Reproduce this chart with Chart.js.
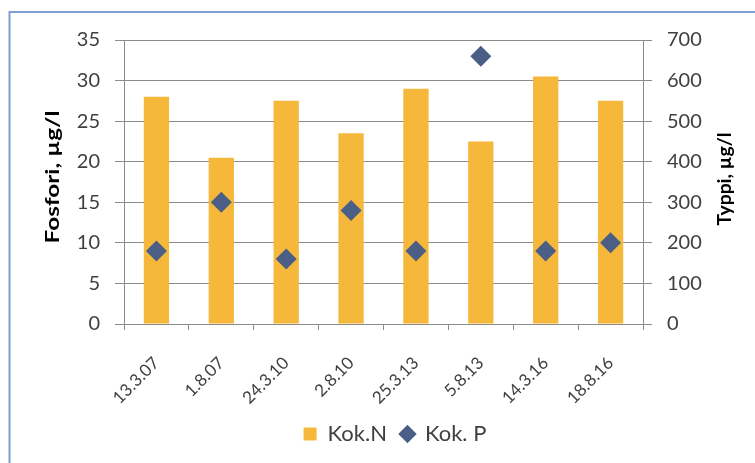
<!DOCTYPE html>
<html>
<head>
<meta charset="utf-8">
<script src="https://cdn.jsdelivr.net/npm/chart.js@4"></script>
<style>
  html, body { margin: 0; padding: 0; background: #ffffff; }
  #wrap { width: 755px; height: 463px; position: relative; }
</style>
</head>
<body>
<div id="wrap"><canvas id="c" width="755" height="463"></canvas></div>
<script>
// Sampling dates
const dates = ['13.3.07', '1.8.07', '24.3.10', '2.8.10', '25.3.13', '5.8.13', '14.3.16', '18.8.16'];
// Total nitrogen, µg/l (right axis)
const kokN = [560, 410, 550, 470, 580, 450, 610, 550];
// Total phosphorus, µg/l (left axis)
const kokP = [9, 15, 8, 14, 9, 33, 9, 10];
// Axis ranges
const pTicks = { min: 0, max: 35, step: 5 };
const nTicks = { min: 0, max: 700, step: 100 };

const FONT = 'Lato, "Open Sans", sans-serif';
const TEXT = '#404040';
const GRID = '#8c8c8c';
const BAR = '#F5B83B';
const DIAMOND = '#4A5E86';

// Light blue frame around the whole chart
const framePlugin = {
  id: 'frame',
  beforeDraw(chart) {
    const ctx = chart.ctx;
    ctx.save();
    ctx.fillStyle = '#ffffff';
    ctx.fillRect(0, 0, chart.width, chart.height);
    ctx.strokeStyle = '#7F9ED3';
    ctx.lineWidth = 2;
    ctx.strokeRect(9.5, 12, chart.width + 10, chart.height + 10);
    ctx.restore();
  }
};

// Vertical axis titles, both reading bottom to top
function drawAxisTitle(ctx, text, cx, cy, length) {
  ctx.save();
  ctx.font = 'bold 18px ' + FONT;
  const w = ctx.measureText(text).width;
  ctx.translate(cx, cy);
  ctx.rotate(-Math.PI / 2);
  ctx.scale(length / w, 1);
  ctx.fillStyle = '#000000';
  ctx.textAlign = 'center';
  ctx.textBaseline = 'middle';
  ctx.fillText(text, 0, 0);
  ctx.restore();
}
const axisTitlesPlugin = {
  id: 'axisTitles',
  afterDraw(chart) {
    const ctx = chart.ctx;
    drawAxisTitle(ctx, 'Fosfori, µg/l', 53, 177, 133);
    drawAxisTitle(ctx, 'Typpi, µg/l', 725, 179, 93);
  }
};

new Chart(document.getElementById('c'), {
  type: 'bar',
  data: {
    labels: dates,
    datasets: [
      {
        label: 'Kok.N',
        data: kokN,
        yAxisID: 'yN',
        backgroundColor: BAR,
        borderWidth: 0,
        barPercentage: 0.39,
        categoryPercentage: 1.0,
        pointStyle: 'rect',
        order: 2
      },
      {
        type: 'line',
        label: 'Kok. P',
        data: kokP,
        yAxisID: 'yP',
        showLine: false,
        pointStyle: 'rectRot',
        pointRadius: 10.5,
        pointHoverRadius: 10.5,
        pointBackgroundColor: DIAMOND,
        pointBorderColor: DIAMOND,
        pointBorderWidth: 0,
        backgroundColor: DIAMOND,
        borderColor: DIAMOND,
        order: 1
      }
    ]
  },
  options: {
    responsive: false,
    animation: false,
    devicePixelRatio: 1,
    layout: { padding: { left: 35, right: 0, top: 40, bottom: 8 } },
    plugins: {
      tooltip: { enabled: false },
      legend: {
        position: 'bottom',
        labels: {
          usePointStyle: true,
          boxWidth: 13,
          boxHeight: 13,
          padding: 14,
          color: TEXT,
          font: { family: FONT, size: 22 },
          sort: (a, b) => a.datasetIndex - b.datasetIndex
        }
      }
    },
    scales: {
      x: {
        offset: true,
        grid: {
          offset: true,
          drawOnChartArea: false,
          drawTicks: true,
          tickLength: 6,
          color: GRID
        },
        border: { display: true, color: GRID },
        ticks: {
          minRotation: 45,
          maxRotation: 45,
          padding: 23,
          color: TEXT,
          font: { family: FONT, size: 17 }
        },
        afterFit(scale) { scale.height = 85; }
      },
      yP: {
        position: 'left',
        min: pTicks.min,
        max: pTicks.max,
        ticks: {
          stepSize: pTicks.step,
          padding: 15,
          color: TEXT,
          font: { family: FONT, size: 20 }
        },
        grid: { color: GRID, tickLength: 9 },
        border: { display: true, color: GRID },
        afterFit(scale) { scale.width = 89; }
      },
      yN: {
        position: 'right',
        min: nTicks.min,
        max: nTicks.max,
        ticks: {
          stepSize: nTicks.step,
          padding: 15,
          color: TEXT,
          font: { family: FONT, size: 20 }
        },
        grid: { drawOnChartArea: false, color: GRID, tickLength: 9 },
        border: { display: true, color: GRID },
        afterFit(scale) { scale.width = 112; }
      }
    }
  },
  plugins: [framePlugin, axisTitlesPlugin]
});
</script>
</body>
</html>
